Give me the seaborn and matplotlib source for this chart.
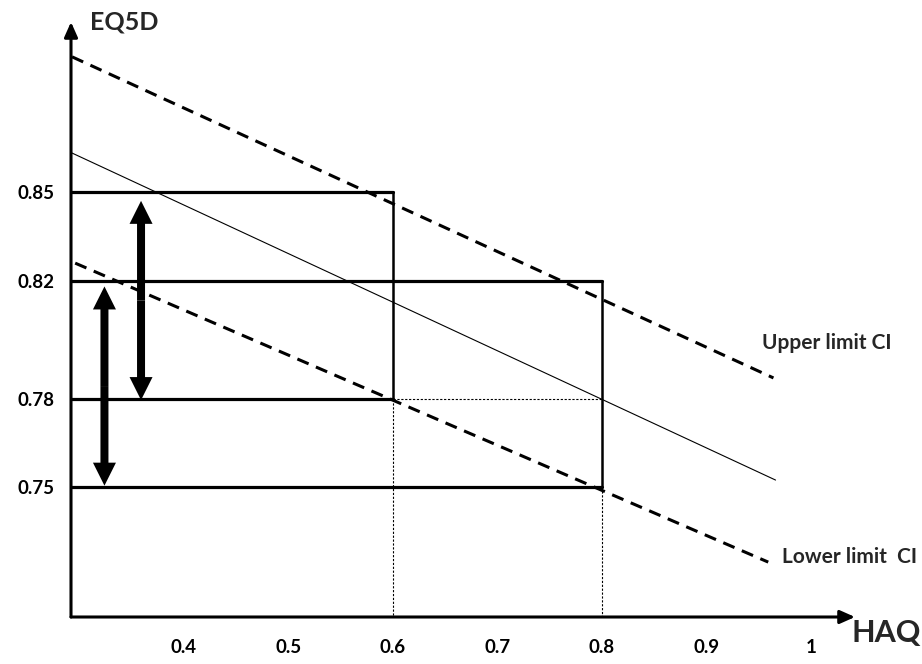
import matplotlib
matplotlib.use("Agg")
import matplotlib.pyplot as plt
from matplotlib.patches import FancyArrow
import numpy as np
import pandas as pd
import seaborn as sns

# ---- data ----
haq_ticks = [0.4, 0.5, 0.6, 0.7, 0.8, 0.9, 1.0]
haq_tick_labels = ["0.4", "0.5", "0.6", "0.7", "0.8", "0.9", "1"]
eq5d_ticks = [0.85, 0.82, 0.78, 0.75]
eq5d_tick_labels = ["0.85", "0.82", "0.78", "0.75"]

# horizontal solid levels and the HAQ where each stops
h_levels = [0.85, 0.82, 0.78, 0.75]
h_end_haq = [0.6, 0.8, 0.6, 0.8]
# vertical solid segments
v_haq = [0.6, 0.8]
v_top = [0.85, 0.82]
v_bottom = [0.78, 0.75]
# dotted guides
dot_h_haq = [0.6, 0.8]
dot_h_eq = [0.78, 0.78]
dot_v_haq = [0.6, 0.8]
dot_v_top = [0.78, 0.75]

# regression line and CI limits (endpoints)
reg_haq = [0.293, 0.966]
reg_eq = [0.8632, 0.7524]
upper_haq = [0.293, 0.964]
upper_eq = [0.8958, 0.7870]
lower_haq = [0.296, 0.959]
lower_eq = [0.8259, 0.7246]

# double arrows
arrow_haq = [0.359, 0.324]
arrow_top = [0.847, 0.818]
arrow_bottom = [0.7795, 0.7505]

x_min, x_max = 0.292, 1.042
y_min, y_max = 0.706, 0.9076

# ---- plotting ----
sns.set_theme(style="white")
plt.rcParams["font.family"] = ["Lato", "DejaVu Sans"]

fig = plt.figure(figsize=(9.22, 6.64), dpi=100)
ax = fig.add_axes([71 / 922, 1 - 617 / 664, (855 - 71) / 922, (617 - 22) / 664])
ax.set_xlim(x_min, x_max)
ax.set_ylim(y_min, y_max)
for s in ax.spines.values():
    s.set_visible(False)

def seg(xs, ys, **kw):
    sns.lineplot(x=xs, y=ys, ax=ax, estimator=None, sort=False,
                 legend=False, **kw)

# horizontal solid lines
for lev, xe in zip(h_levels, h_end_haq):
    seg([x_min, xe], [lev, lev], color="black", linewidth=2.3)
# vertical solid lines
for xv, t, b in zip(v_haq, v_top, v_bottom):
    seg([xv, xv], [t, b], color="black", linewidth=1.8)
# dotted guides
seg(dot_h_haq, dot_h_eq, color="black", linewidth=0.8, dashes=(2, 1.5))
for xv, t in zip(dot_v_haq, dot_v_top):
    seg([xv, xv], [t, y_min], color="black", linewidth=0.8, dashes=(2, 1.5))

# regression and CI lines
seg(reg_haq, reg_eq, color="black", linewidth=0.8)
seg(upper_haq, upper_eq, color="black", linewidth=2.2, dashes=(4, 2.6))
seg(lower_haq, lower_eq, color="black", linewidth=2.2, dashes=(4, 2.6))

# double-headed arrows (two heads drawn outward from the middle)
px_x = (x_max - x_min) / (855 - 71)
px_y = (y_max - y_min) / (617 - 22)
for xa, t, b in zip(arrow_haq, arrow_top, arrow_bottom):
    mid = (t + b) / 2
    for end in (t, b):
        ax.add_patch(FancyArrow(xa, mid, 0, end - mid, width=8 * px_x,
                                head_width=23 * px_x, head_length=23 * px_y,
                                length_includes_head=True, color="black",
                                linewidth=0))

# axes arrows
ax.annotate("", xy=(x_min, y_max), xytext=(x_min, y_min),
            arrowprops=dict(arrowstyle="-|>,head_length=0.9,head_width=0.4",
                            mutation_scale=10, lw=2.2, color="black",
                            shrinkA=0, shrinkB=0), annotation_clip=False)
ax.annotate("", xy=(x_max, y_min), xytext=(x_min, y_min),
            arrowprops=dict(arrowstyle="-|>,head_length=0.9,head_width=0.4",
                            mutation_scale=10, lw=2.2, color="black",
                            shrinkA=0, shrinkB=0), annotation_clip=False)

# ticks
ax.set_xticks(haq_ticks)
ax.set_xticklabels(haq_tick_labels)
ax.set_yticks(eq5d_ticks)
ax.set_yticklabels(eq5d_tick_labels)
ax.tick_params(axis="both", length=0, labelsize=13.5, colors="black")
ax.tick_params(axis="x", pad=16)
ax.tick_params(axis="y", pad=12)
for lab in ax.get_xticklabels() + ax.get_yticklabels():
    lab.set_fontweight("bold")
ax.set_xlabel("")
ax.set_ylabel("")

# text labels
ax.text(0.310, y_max, "EQ5D", fontsize=18, fontweight="bold",
        ha="left", va="center", clip_on=False)
ax.text(1.039, 0.7005, "HAQ", fontsize=22, fontweight="bold",
        ha="left", va="center", clip_on=False)
ax.text(0.953, 0.799, "Upper limit CI", fontsize=15, fontweight="bold",
        ha="left", va="center", clip_on=False)
ax.text(0.972, 0.7263, "Lower limit  CI", fontsize=15, fontweight="bold",
        ha="left", va="center", clip_on=False)

fig.savefig("out.png", dpi=100, facecolor="white")
